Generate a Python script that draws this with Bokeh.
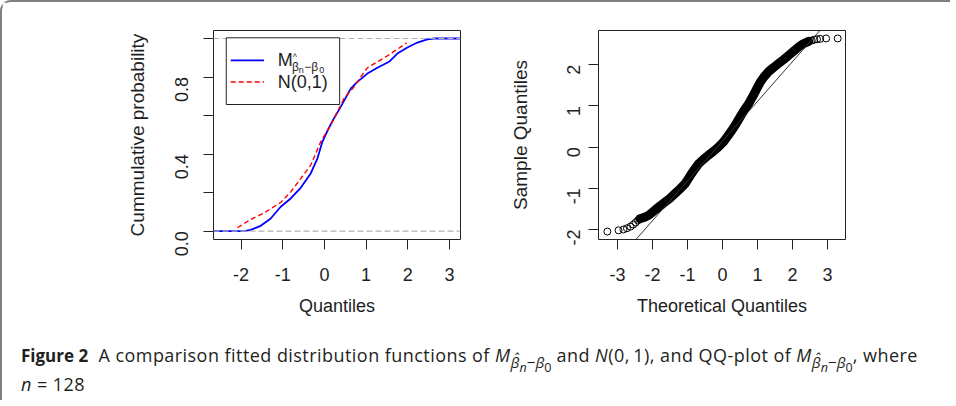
import math
from bokeh.plotting import figure
from bokeh.models import Range1d, FixedTicker, Span, Slope, Div
from bokeh.layouts import column, row
from bokeh.core.properties import value
from bokeh.embed import file_html
from bokeh.resources import INLINE

# ---------------- data ----------------
# Left panel: empirical distribution of M and fitted N(0,1)
ecdf_x = [-2.05, -1.90, -1.77, -1.53, -1.29, -1.05, -0.81, -0.57, -0.33, -0.17,
          -0.05, 0.07, 0.20, 0.39, 0.63, 0.79, 1.03, 1.27, 1.55, 1.75, 1.99,
          2.23, 2.47, 2.63]
ecdf_y = [0.0, 0.002, 0.007, 0.028, 0.066, 0.127, 0.17, 0.225, 0.30, 0.377,
          0.464, 0.52, 0.575, 0.645, 0.74, 0.775, 0.818, 0.848, 0.879, 0.922,
          0.953, 0.979, 0.995, 1.0]
norm_x = [-2.09, -1.77, -1.45, -1.05, -0.81, -0.57, -0.33, -0.09, 0.15, 0.47,
          0.71, 0.87, 1.03, 1.27, 1.51, 1.75, 1.97]
norm_y = [0.018, 0.061, 0.095, 0.149, 0.204, 0.273, 0.343, 0.464, 0.55, 0.689,
          0.749, 0.80, 0.848, 0.879, 0.91, 0.944, 0.977]
left_xticks = [-2, -1, 0, 1, 2, 3]
left_xtick_labels = {-2: "-2", -1: "-1", 0: "0", 1: "1", 2: "2", 3: "3"}
left_yticks = [0.0, 0.2, 0.4, 0.6, 0.8, 1.0]
left_ytick_labels = {0.0: "0.0", 0.2: "", 0.4: "0.4", 0.6: "", 0.8: "0.8", 1.0: ""}
legend_labels = ["M", "N(0,1)"]

# Right panel: normal QQ plot
qq_lo_x = [-3.29, -2.97, -2.83, -2.73, -2.63, -2.55, -2.48, -2.42]
qq_lo_y = [-2.05, -2.02, -2.00, -1.97, -1.93, -1.88, -1.83, -1.78]
qq_band_x = [-2.36, -2.25, -2.12, -2.00, -1.89, -1.77, -1.65, -1.50, -1.36, -1.21,
             -1.07, -0.98, -0.89, -0.79, -0.69, -0.55, -0.41, -0.27, -0.12, 0.02,
             0.16, 0.26, 0.36, 0.50, 0.62, 0.73, 0.87, 0.98, 1.08, 1.19, 1.31,
             1.45, 1.60, 1.75, 1.89, 2.03, 2.17, 2.31, 2.46]
qq_band_y = [-1.74, -1.71, -1.66, -1.58, -1.50, -1.42, -1.34, -1.24, -1.13, -1.01,
             -0.89, -0.77, -0.65, -0.53, -0.41, -0.30, -0.20, -0.11, 0.0, 0.12,
             0.28, 0.40, 0.53, 0.73, 0.90, 1.03, 1.24, 1.42, 1.58, 1.71, 1.83,
             1.93, 2.03, 2.13, 2.23, 2.33, 2.43, 2.51, 2.57]
qq_hi_x = [2.55, 2.62, 2.70, 2.79, 2.96, 3.29]
qq_hi_y = [2.59, 2.61, 2.62, 2.63, 2.64, 2.64]
qq_slope = 0.966
qq_intercept = 0.146
right_xticks = [-3, -2, -1, 0, 1, 2, 3]
right_xtick_labels = {-3: "-3", -2: "-2", -1: "-1", 0: "0", 1: "1", 2: "2", 3: "3"}
right_yticks = [-2, -1, 0, 1, 2]
right_ytick_labels = {-2: "-2", -1: "-1", 0: "0", 1: "1", 2: "2"}

# ---------------- styling helpers ----------------
FONT = "Liberation Sans"
TXT = "#1e1e1e"
LINE = "#222222"


def base_fig(xr, yr, mb_left, mb_right):
    p = figure(frame_width=247, frame_height=209,
               x_range=Range1d(*xr), y_range=Range1d(*yr),
               output_backend="svg", toolbar_location=None,
               min_border_left=mb_left, min_border_right=mb_right,
               min_border_top=28, min_border_bottom=81)
    p.grid.visible = False
    p.outline_line_color = LINE
    p.outline_line_width = 1
    p.outline_line_alpha = 1
    p.background_fill_color = "white"
    p.border_fill_color = "white"
    for ax in (p.xaxis[0], p.yaxis[0]):
        ax.axis_line_color = None
        ax.major_tick_line_color = LINE
        ax.major_tick_in = 0
        ax.major_tick_out = 10
        ax.minor_tick_line_color = None
        ax.major_label_text_font = FONT
        ax.major_label_text_font_size = "18px"
        ax.major_label_text_color = TXT
        ax.axis_label_text_font = FONT
        ax.axis_label_text_font_style = "normal"
        ax.axis_label_text_color = TXT
    p.xaxis.axis_label_text_font_size = "18px"
    p.yaxis.axis_label_text_font_size = "19px"
    p.xaxis.major_label_standoff = 18
    p.xaxis.axis_label_standoff = 12
    p.yaxis.major_label_orientation = math.pi / 2
    return p


# ---------------- left panel ----------------
XL = (-2.663, 3.265)
YL = (-0.043, 1.0415)
p1 = base_fig(XL, YL, 211, 2)
p1.xaxis.ticker = FixedTicker(ticks=left_xticks)
p1.xaxis.major_label_overrides = left_xtick_labels
p1.yaxis.ticker = FixedTicker(ticks=left_yticks)
p1.yaxis.major_label_overrides = left_ytick_labels
p1.xaxis.axis_label = "Quantiles"
p1.yaxis.axis_label = "Cummulative probability"
p1.yaxis.major_label_standoff = 22
p1.yaxis.axis_label_standoff = 18

ex = [XL[0]] + ecdf_x + [XL[1]]
ey = [ecdf_y[0]] + ecdf_y + [ecdf_y[-1]]
p1.line(ex, ey, line_color="#0000ff", line_width=1.8)
p1.line(norm_x, norm_y, line_color="#ff0000", line_width=1.4, line_dash="5 3")
for loc in (0.0, 1.0):
    p1.add_layout(Span(location=loc, dimension="width", line_color="#b3b3b3",
                       line_width=1.2, line_dash="6 3"))

# legend (drawn on top of everything)
p1.quad(left=[-2.357], right=[0.365], top=[1.0036], bottom=[0.6575],
        fill_color="white", line_color=LINE, line_width=1, level="overlay")
p1.segment(x0=[-2.249], x1=[-1.451], y0=[0.886], y1=[0.886],
           line_color="#0000ff", line_width=1.8, level="overlay")
p1.segment(x0=[-2.249], x1=[-1.451], y0=[0.774], y1=[0.774],
           line_color="#ff0000", line_width=1.4, line_dash="5 3", level="overlay")
p1.text(x=[-1.122], y=[0.886], text=[legend_labels[0]], text_font=value(FONT),
        text_font_size="18px", text_color=TXT, text_baseline="middle",
        text_align="left", level="overlay")
p1.text(x=[-1.122], y=[0.774], text=[legend_labels[1]], text_font=value(FONT),
        text_font_size="18px", text_color=TXT, text_baseline="middle",
        text_align="left", level="overlay")
sub_parts = [("\u03b2", -0.780, 0.852, "12px"), ("^", -0.760, 0.905, "9px"),
             ("n", -0.619, 0.835, "9px"),
             ("\u2212\u03b2", -0.487, 0.852, "12px"), ("0", -0.127, 0.835, "9px")]
for t, sx, sy, fs in sub_parts:
    p1.text(x=[sx], y=[sy], text=[t], text_font=value(FONT), text_font_size=fs,
            text_color=TXT, text_baseline="middle", text_align="left", level="overlay")

# ---------------- right panel ----------------
XR = (-3.543, 3.514)
YR = (-2.243, 2.833)
p2 = base_fig(XR, YR, 136, 95)
p2.xaxis.ticker = FixedTicker(ticks=right_xticks)
p2.xaxis.major_label_overrides = right_xtick_labels
p2.yaxis.ticker = FixedTicker(ticks=right_yticks)
p2.yaxis.major_label_overrides = right_ytick_labels
p2.xaxis.axis_label = "Theoretical Quantiles"
p2.yaxis.axis_label = "Sample Quantiles"
p2.yaxis.major_label_standoff = 15
p2.yaxis.axis_label_standoff = 27

p2.line(qq_band_x, qq_band_y, line_color="black", line_width=9, line_cap="round",
        line_join="round")
for xs, ys in ((qq_lo_x, qq_lo_y), (qq_band_x, qq_band_y), (qq_hi_x, qq_hi_y)):
    p2.scatter(xs, ys, marker="circle", size=7, fill_color=None,
               line_color="black", line_width=1)
p2.add_layout(Slope(gradient=qq_slope, y_intercept=qq_intercept,
                    line_color="#333333", line_width=1))

# ---------------- caption ----------------
sub = 'style="font-size:0.85em; vertical-align:-0.42em; line-height:0; letter-spacing:0"'
sub2 = 'style="font-size:0.82em; vertical-align:-0.3em; line-height:0"'
Msub = (f'<i>M</i><sub {sub}><i>\u03b2\u0302</i><sub {sub2}><i>n</i></sub>'
        f'\u2212<i>\u03b2</i><sub {sub2}>0</sub></sub>')
caption_html = (
    '<div style="padding:16px 0 0 14px; font-family:\'Open Sans\', \'Liberation Sans\', '
    'sans-serif; font-size:18px; letter-spacing:0.45px; line-height:29px; '
    'color:#231f20;">'
    '<div style="width:892px; text-align:justify; text-align-last:justify; '
    'white-space:nowrap;">'
    '<b style="font-size:17px; letter-spacing:0">Figure 2</b>&nbsp; A comparison fitted '
    'distribution functions of '
    + Msub + ' and <i>N</i>(0,&thinsp;1), and QQ-plot of ' + Msub +
    ', where</div><div><i>n</i> = 128</div></div>')
cap = Div(text=caption_html, width=938, height=70)

layout = column(row(p1, p2), cap,
                styles={"border-left": "2px solid #808080",
                        "border-top": "2px solid #808080",
                        "border-top-left-radius": "11px"})

open("out.html", "w").write(file_html(layout, INLINE))
